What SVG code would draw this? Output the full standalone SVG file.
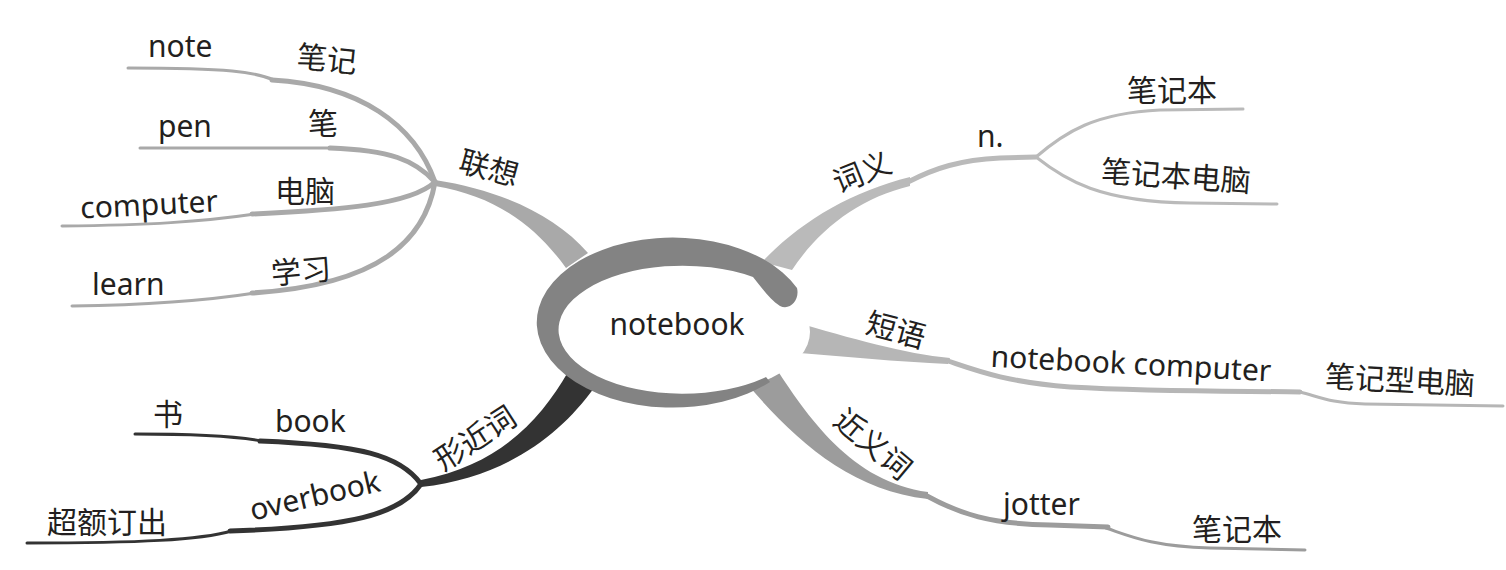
<svg xmlns="http://www.w3.org/2000/svg" width="1506" height="570" viewBox="0 0 1506 570">
<style>
.t{font-family:"Noto Sans","Noto Sans CJK SC",sans-serif;font-size:30px;fill:#231f20}
.ln{fill:none;stroke-linecap:round;stroke-linejoin:round}
.a{stroke:#a9a9a9}.b{stroke:#bababa}.c{stroke:#b6b6b6}.d{stroke:#9c9c9c}.e{stroke:#333333}
.w5{stroke-width:5}.w3{stroke-width:3}
</style>
<rect width="1506" height="570" fill="#ffffff"/>
<g id="connectors">
  <!-- 联想 -->
  <path d="M588,253 C555,215 500,190 435,180 L435,186 C495,196 535,225 566,268 Z" fill="#a9a9a9"/>
  <path class="ln a w5" d="M435,182 C415,125 360,85 272,80"/>
  <path class="ln a w3" d="M274,80 C255,72 230,68 128,68"/>
  <path class="ln a w5" d="M435,182 C415,160 390,150 330,148"/>
  <path class="ln a w3" d="M335,148 L140,148"/>
  <path class="ln a w5" d="M435,182 C410,205 340,210 252,214"/>
  <path class="ln a w3" d="M255,214 C200,222 150,225 62,226"/>
  <path class="ln a w5" d="M435,182 C425,240 380,285 252,293"/>
  <path class="ln a w3" d="M255,293 C210,300 150,305 72,306"/>
  <!-- 词义 -->
  <path d="M762,262 C800,222 850,192 910,177 L910,186 C860,198 820,228 792,270 Z" fill="#bababa"/>
  <path class="ln b w5" d="M908,182 C935,168 960,160 1000,158 L1036,157"/>
  <path class="ln b w3" d="M1036,157 C1065,132 1095,113 1160,110 L1243,109"/>
  <path class="ln b w3" d="M1036,157 C1065,180 1100,202 1190,203 L1277,204"/>
  <!-- 短语 -->
  <path d="M795,322 C850,338 905,354 950,358 L948,364 C900,362 840,356 785,352 Z" fill="#b6b6b6"/>
  <path class="ln c w5" d="M948,361 C975,370 1005,382 1070,387 C1160,392 1250,391 1300,392"/>
  <path class="ln c w3" d="M1300,392 C1320,397 1330,403 1365,404 L1503,406"/>
  <!-- 近义词 -->
  <path d="M772,362 C808,418 852,482 928,492 L928,499 C850,490 795,440 748,385 Z" fill="#9c9c9c"/>
  <path class="ln d w5" d="M927,496 C960,514 990,524 1050,525 L1108,527"/>
  <path class="ln d w3" d="M1106,528 C1130,536 1150,546 1210,548 L1305,550"/>
  <!-- 形近词 -->
  <path d="M568,372 C540,420 500,465 421,480 L421,487 C505,478 560,435 594,388 Z" fill="#333333"/>
  <path class="ln e w5" d="M421,484 C400,455 360,445 260,441"/>
  <path class="ln e w3" d="M262,441 C240,437 210,434 135,434"/>
  <path class="ln e w5" d="M421,484 C400,515 350,527 230,531"/>
  <path class="ln e w3" d="M232,531 C200,540 140,543 27,543"/>
</g>
<g id="node-center">
  <ellipse cx="682" cy="332" rx="128" ry="64" fill="#ffffff"/>
  <path d="M797,288 A136 85 0 1 0 770,382 L766,377 A124 64 0 1 1 753,277 C762,288 770,300 780,306 C790,311 800,300 797,288 Z" fill="#838383"/>
  <text class="t" x="677" y="335" text-anchor="middle">notebook</text>
</g>
<g id="node-lianxiang">
  <text class="t" text-anchor="middle" transform="translate(489,168) rotate(15)" y="11">联想</text>
</g>
<g id="node-note"><text class="t" x="148" y="57">note</text></g>
<g id="node-biji"><text class="t" text-anchor="middle" transform="translate(327,59) rotate(6)" y="11">笔记</text></g>
<g id="node-pen"><text class="t" x="158" y="137">pen</text></g>
<g id="node-bi"><text class="t" x="308" y="134">笔</text></g>
<g id="node-computer"><text class="t" text-anchor="middle" transform="translate(149,205) rotate(-3)" y="10">computer</text></g>
<g id="node-diannao"><text class="t" x="275" y="202">电脑</text></g>
<g id="node-learn"><text class="t" x="92" y="295">learn</text></g>
<g id="node-xuexi"><text class="t" text-anchor="middle" transform="translate(301,271) rotate(-5)" y="11">学习</text></g>
<g id="node-ciyi"><text class="t" text-anchor="middle" transform="translate(862,172) rotate(-22)" y="11">词义</text></g>
<g id="node-n"><text class="t" x="977" y="147">n.</text></g>
<g id="node-bijiben1"><text class="t" x="1127" y="101">笔记本</text></g>
<g id="node-bijibendiannao"><text class="t" text-anchor="middle" transform="translate(1176,176) rotate(4)" y="11">笔记本电脑</text></g>
<g id="node-duanyu"><text class="t" text-anchor="middle" transform="translate(896,330) rotate(15)" y="11">短语</text></g>
<g id="node-notebookcomputer"><text class="t" text-anchor="middle" transform="translate(1131,364) rotate(3)" y="10">notebook computer</text></g>
<g id="node-bijixing"><text class="t" text-anchor="middle" transform="translate(1400,380) rotate(3)" y="11">笔记型电脑</text></g>
<g id="node-jinyici"><text class="t" text-anchor="middle" transform="translate(873,444) rotate(40)" y="11">近义词</text></g>
<g id="node-jotter"><text class="t" x="1003" y="515">jotter</text></g>
<g id="node-bijiben2"><text class="t" x="1192" y="540">笔记本</text></g>
<g id="node-xingjinci"><text class="t" text-anchor="middle" transform="translate(475,438) rotate(-33)" y="11">形近词</text></g>
<g id="node-book"><text class="t" x="275" y="432">book</text></g>
<g id="node-shu"><text class="t" x="153" y="425">书</text></g>
<g id="node-overbook"><text class="t" text-anchor="middle" transform="translate(315,496) rotate(-13)" y="10">overbook</text></g>
<g id="node-chaoe"><text class="t" x="47" y="533">超额订出</text></g>
</svg>
